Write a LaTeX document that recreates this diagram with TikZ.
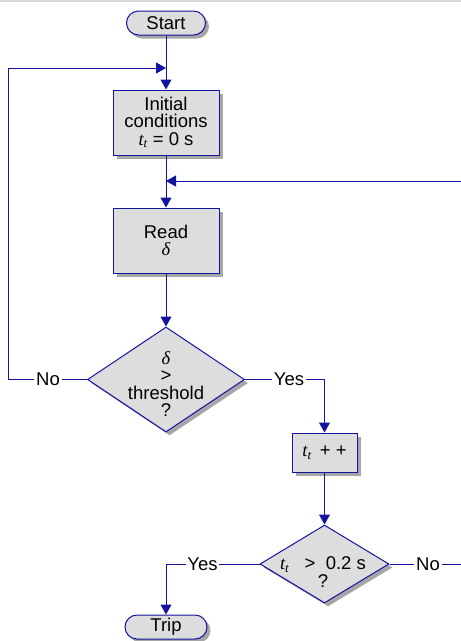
\documentclass[tikz,border=0pt]{standalone}
\usepackage{fontspec}
\setmainfont{Liberation Sans}
\newfontfamily\serifvar{Liberation Serif}
\newcommand{\varit}[1]{{\serifvar\itshape #1}}
\newcommand{\tvar}{\varit{t}\textsubscript{\varit{t}}}
\usetikzlibrary{shapes.geometric,shadows,arrows.meta}
\definecolor{lineblue}{RGB}{20,20,160}
\definecolor{boxfill}{RGB}{221,221,221}
\definecolor{shadowgray}{RGB}{166,166,166}
\definecolor{topline}{RGB}{216,216,216}
\begin{document}
\begin{tikzpicture}[x=1pt,y=-1pt,
  every node/.style={font=\fontsize{18.5}{17.5}\selectfont},
  shadowed/.style={drop shadow={shadow xshift=3.5pt,shadow yshift=-3.5pt,fill=shadowgray,opacity=1}},
  procbox/.style={draw=lineblue,fill=boxfill,line width=1pt,shadowed,inner sep=0pt,align=center},
  termbox/.style={procbox,rounded corners=12pt},
  decbox/.style={draw=lineblue,fill=boxfill,line width=1pt,shadowed,shape=diamond,inner sep=0pt},
  conn/.style={draw=lineblue,line width=1pt},
  arr/.style={conn,-{Triangle[width=11pt,length=10pt]}},
  lbl/.style={inner sep=1.5pt}
]
\useasboundingbox (0,0) rectangle (461,641);
\draw[topline,line width=1.5pt] (0,0.75) -- (461,0.75);

\node[termbox,minimum width=79pt,minimum height=24pt] (start) at (166,23) {Start};
\node[procbox,minimum width=106pt,minimum height=65pt] (init) at (166,122.5) {Initial\\conditions\\\tvar\ = 0 s};
\node[procbox,minimum width=106pt,minimum height=65pt] (read) at (166,240.5) {Read\\\varit{δ}};
\node[decbox,minimum width=157pt,minimum height=105pt] (dec1) at (166,379.5) {};
\node[align=center] (dec1t) at (166,384) {\varit{δ}\\>\\threshold\\?};
\node[procbox,minimum width=65pt,minimum height=39pt] (inc) at (324.5,452.5) {\tvar\ \,+ +};
\node[decbox,minimum width=129pt,minimum height=78pt] (dec2) at (324.5,564) {};
\node[align=center] (dec2t) at (323,572) {\tvar\ \ \ > \ 0.2 s\\?};
\node[termbox,minimum width=82pt,minimum height=24pt] (trip) at (166,627) {Trip};

\node[lbl] (no1) at (48,379.5) {No};
\node[lbl] (yes1) at (289,379.5) {Yes};
\node[lbl] (yes2) at (202.5,564) {Yes};
\node[lbl] (no2) at (428,564) {No};

\coordinate (lc) at (8,379.5);
\coordinate (j1) at (166,68);
\coordinate (rin) at (461,181);
\coordinate (j2) at (166,181);
\coordinate (rout) at (461,564);

\draw[arr] (start) -- (init);
\draw[arr] (init) -- (read);
\draw[arr] (read) -- (dec1);
\draw[conn] (dec1.west) -- (no1.east);
\draw[arr] (no1.west) -- (lc) |- (j1);
\draw[arr] (rin) -- (j2);
\draw[conn] (dec1.east) -- (yes1.west);
\draw[arr] (yes1.east) -| (inc.north);
\draw[arr] (inc) -- (dec2);
\draw[conn] (dec2.west) -- (yes2.east);
\draw[arr] (yes2.west) -| (trip.north);
\draw[conn] (dec2.east) -- (no2.west);
\draw[conn] (no2.east) -- (rout);
\end{tikzpicture}
\end{document}
